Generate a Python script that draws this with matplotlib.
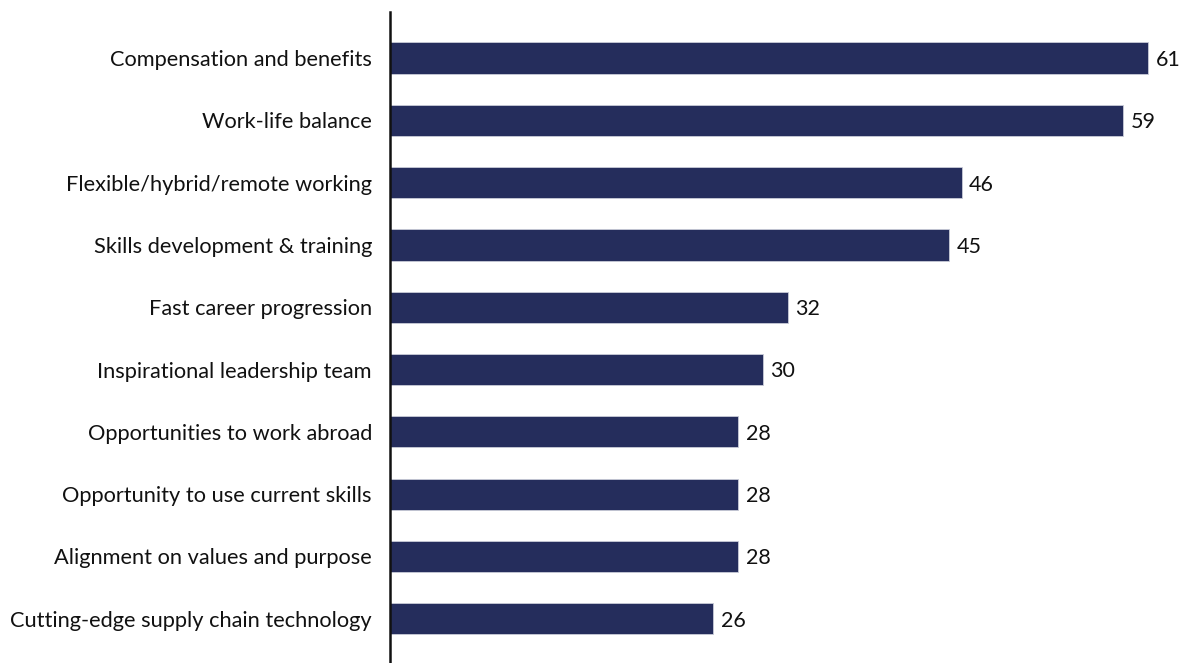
import matplotlib.pyplot as plt

plt.rcParams['font.family'] = ['Lato', 'DejaVu Sans']

categories = [
    "Compensation and benefits",
    "Work-life balance",
    "Flexible/hybrid/remote working",
    "Skills development & training",
    "Fast career progression",
    "Inspirational leadership team",
    "Opportunities to work abroad",
    "Opportunity to use current skills",
    "Alignment on values and purpose",
    "Cutting-edge supply chain technology",
]
values = [61, 59, 46, 45, 32, 30, 28, 28, 28, 26]

bar_color = "#252d5c"

fig = plt.figure(figsize=(11.83, 6.63), dpi=100)
ax = fig.add_axes([0.3297, 0.0, 0.6703, 0.982])

y = list(range(len(categories)))
ax.barh(y, values, height=0.5, color=bar_color, edgecolor="#c8cbd8", linewidth=0.6)

for yi, v in zip(y, values):
    ax.text(v + 0.6, yi + 0.03, str(v), va="center", ha="left", fontsize=15.5, color="#111111")

ax.set_yticks(y)
ax.set_yticklabels(categories, fontsize=15.7, color="#111111")
ax.tick_params(axis="y", length=0, pad=13)
ax.set_xticks([])
ax.set_xlim(0, 63.8)
ax.set_ylim(9.71, -0.74)

for side in ["top", "right", "bottom"]:
    ax.spines[side].set_visible(False)
ax.spines["left"].set_linewidth(1.8)
ax.spines["left"].set_color("#111111")

fig.savefig("out.png", dpi=100, facecolor="white")
